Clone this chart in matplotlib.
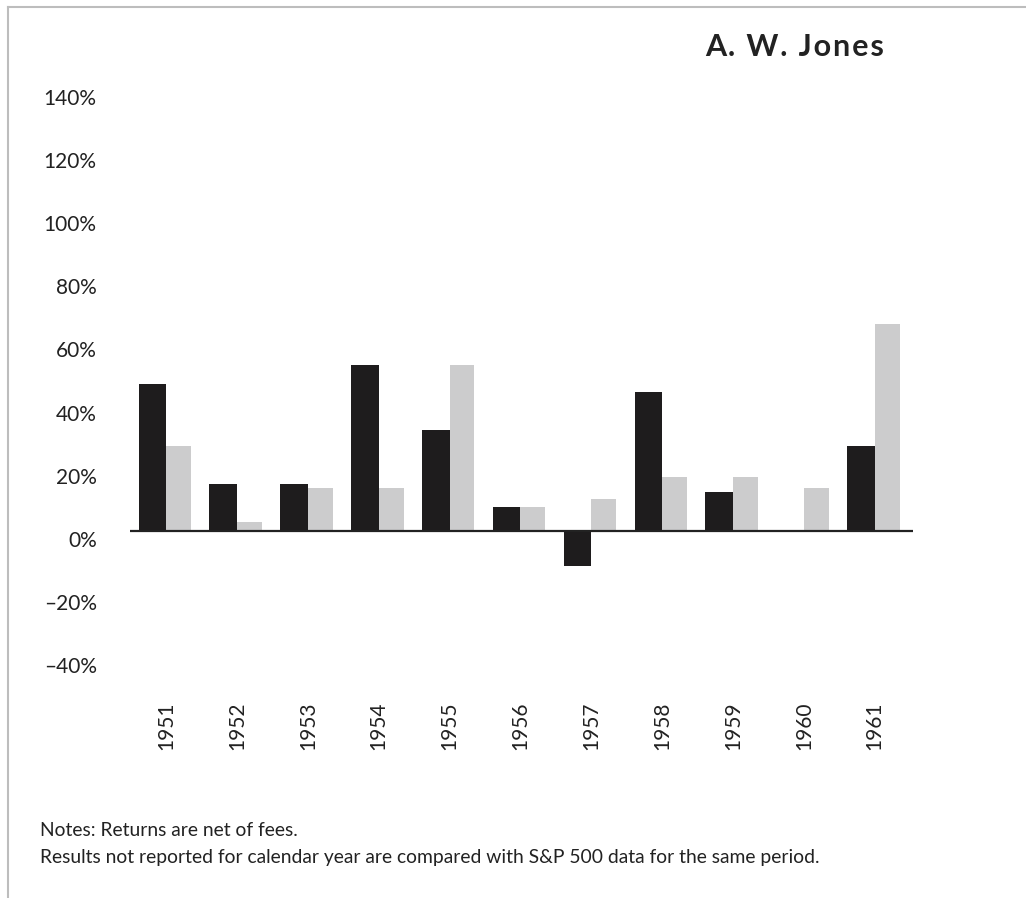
import numpy as np
import matplotlib
matplotlib.use("Agg")
import matplotlib.pyplot as plt
import matplotlib.transforms as mtransforms
from matplotlib.lines import Line2D

plt.rcParams['font.family'] = ['Lato', 'DejaVu Sans']

# values (% returns)
years = ['1951', '1952', '1953', '1954', '1955', '1956', '1957', '1958', '1959', '1960', '1961']
jones = [46.5, 15, 15, 52.5, 32, 7.5, -11, 44, 12.5, np.nan, 27]
sp500 = [27, 3, 13.5, 13.5, 52.5, 7.5, 10, 17, 17, 13.5, 65.5]
yticks = [140, 120, 100, 80, 60, 40, 20, 0, -20, -40]
ytick_labels = ['140%', '120%', '100%', '80%', '60%', '40%', '20%', '0%', '\u201320%', '\u201340%']
title = 'A. W. Jones'

W, H = 1026, 898
fig = plt.figure(figsize=(W / 100, H / 100), dpi=100)

# axes placed in pixel terms: zero line at y=531, 3.16 px per percent
ax_left, ax_right = 130, 913
ymin, ymax = -50, 145
zero_y = 531
ppp = 3.16
ax_top = zero_y - ymax * ppp
ax_bot = zero_y - ymin * ppp
ax = fig.add_axes([ax_left / W, 1 - ax_bot / H, (ax_right - ax_left) / W, (ax_bot - ax_top) / H])

x = np.arange(len(years))
bw_black, bw_gray = 0.39, 0.35
ax.bar(x - bw_black / 2, jones, width=bw_black, color='#1e1c1d', zorder=2)
ax.bar(x + bw_gray / 2, sp500, width=bw_gray, color='#cccccd', zorder=2)
ax.axhline(0, color='#222222', lw=1.6, zorder=3)

ax.set_xlim(-0.51, 10.54)
ax.set_ylim(ymin, ymax)
for s in ax.spines.values():
    s.set_visible(False)

ax.set_yticks(yticks)
ax.set_yticklabels(ytick_labels, fontsize=15, color='#222222')
ax.set_xticks(x)
ax.set_xticklabels(years, rotation=90, fontsize=15, color='#222222')
ax.tick_params(axis='both', length=0)
ax.tick_params(axis='y', pad=24)
ax.tick_params(axis='x', pad=9)

# labels sit a little below their gridline in the original
offset = mtransforms.ScaledTranslation(0, -8 / 100, fig.dpi_scale_trans)
for lbl in ax.get_yticklabels():
    lbl.set_transform(lbl.get_transform() + offset)

# letter-spaced title
fig.text(884 / W, 1 - 47 / H, '\u200a'.join(title), ha='right', va='center',
         fontsize=22, fontweight='bold', color='#222222')

fig.text(40 / W, 1 - 830 / H, 'Notes: Returns are net of fees.', ha='left', va='center',
         fontsize=13.9, color='#222222')
fig.text(40 / W, 1 - 857 / H,
         'Results not reported for calendar year are compared with S&P 500 data for the same period.',
         ha='left', va='center', fontsize=13.9, color='#222222')

# thin grey frame on top and left of the original clipping
fig.add_artist(Line2D([8 / W, 1], [1 - 7 / H, 1 - 7 / H], transform=fig.transFigure, color='#bdbdbd', lw=1.5))
fig.add_artist(Line2D([8 / W, 8 / W], [0, 1 - 7 / H], transform=fig.transFigure, color='#bdbdbd', lw=1.5))

fig.savefig('out.png', dpi=100, facecolor='white')
